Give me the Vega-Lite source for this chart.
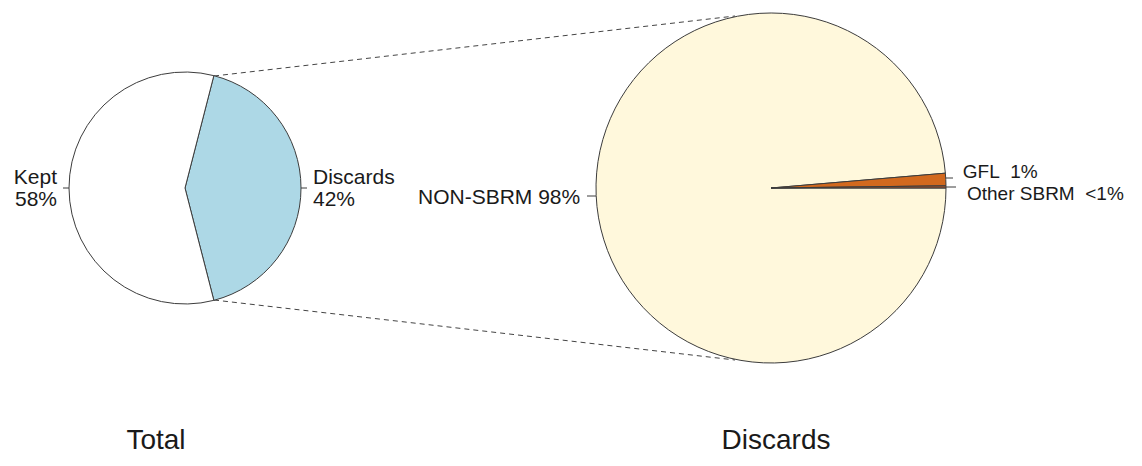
{
  "$schema": "https://vega.github.io/schema/vega-lite/v6.json",
  "width": 1142,
  "height": 466,
  "autosize": {"type": "fit", "contains": "padding"},
  "padding": 0,
  "background": "white",
  "config": {"view": {"stroke": null}, "font": "Liberation Sans", "text": {"font": "Liberation Sans"}},
  "datasets": {
    "total": [
      {"cat": "Discards", "value": 42, "ord": 1, "label": "Discards\n42%"},
      {"cat": "Kept", "value": 58, "ord": 2, "label": "Kept\n58%"}
    ],
    "discards": [
      {"cat": "NON-SBRM", "value": 98.65, "ord": 1, "label": "NON-SBRM 98%"},
      {"cat": "GFL", "value": 1.15, "ord": 2, "label": "GFL\u00a0 1%"},
      {"cat": "Other SBRM", "value": 0.2, "ord": 3, "label": "Other SBRM\u00a0 <1%"}
    ],
    "one": [{}]
  },
  "layer": [
    {
      "data": {"name": "one"},
      "layer": [
        {"mark": {"type": "rule", "stroke": "#444444", "strokeWidth": 1, "strokeDash": [5, 4]},
         "encoding": {
           "x": {"datum": 214, "type": "quantitative", "scale": {"domain": [0, 1142], "nice": false, "zero": false}, "axis": null},
           "y": {"datum": 76, "type": "quantitative", "scale": {"domain": [0, 466], "reverse": true, "nice": false, "zero": false}, "axis": null},
           "x2": {"datum": 735}, "y2": {"datum": 16}}},
        {"mark": {"type": "rule", "stroke": "#444444", "strokeWidth": 1, "strokeDash": [5, 4]},
         "encoding": {
           "x": {"datum": 214, "type": "quantitative", "scale": {"domain": [0, 1142], "nice": false, "zero": false}, "axis": null},
           "y": {"datum": 300, "type": "quantitative", "scale": {"domain": [0, 466], "reverse": true, "nice": false, "zero": false}, "axis": null},
           "x2": {"datum": 735}, "y2": {"datum": 360}}}
      ]
    },
    {
      "data": {"name": "total"},
      "encoding": {
        "x": {"datum": 185, "type": "quantitative", "scale": {"domain": [0, 1142], "nice": false, "zero": false}, "axis": null},
        "y": {"datum": 188, "type": "quantitative", "scale": {"domain": [0, 466], "reverse": true, "nice": false, "zero": false}, "axis": null},
        "theta": {"field": "value", "type": "quantitative", "stack": true, "scale": {"range": [0.25133, 6.53451]}},
        "order": {"field": "ord", "type": "quantitative"}
      },
      "layer": [
        {"mark": {"type": "arc", "radius": 116, "stroke": "#3c3c3c", "strokeWidth": 1},
         "encoding": {"color": {"field": "cat", "type": "nominal", "legend": null,
           "scale": {"domain": ["Kept", "Discards", "NON-SBRM", "GFL", "Other SBRM"], "range": ["#ffffff", "#add8e6", "#fff8dc", "#d2691e", "#a0522d"]}}}},
        {"mark": {"type": "text", "radius": 128, "align": "right", "baseline": "middle", "fontSize": 21, "lineBreak": "\n", "lineHeight": 22, "dy": -10, "color": "#1a1a1a"},
         "encoding": {"text": {"condition": {"test": "datum.cat === 'Kept'", "field": "label"}, "value": ""}}},
        {"mark": {"type": "text", "radius": 128, "align": "left", "baseline": "middle", "fontSize": 21, "lineBreak": "\n", "lineHeight": 22, "dy": -10, "color": "#1a1a1a"},
         "encoding": {"text": {"condition": {"test": "datum.cat === 'Discards'", "field": "label"}, "value": ""}}}
      ]
    },
    {
      "data": {"name": "discards"},
      "encoding": {
        "x": {"datum": 771, "type": "quantitative", "scale": {"domain": [0, 1142], "nice": false, "zero": false}, "axis": null},
        "y": {"datum": 188, "type": "quantitative", "scale": {"domain": [0, 466], "reverse": true, "nice": false, "zero": false}, "axis": null},
        "theta": {"field": "value", "type": "quantitative", "stack": true, "scale": {"range": [1.5708, 7.85398]}},
        "order": {"field": "ord", "type": "quantitative"}
      },
      "layer": [
        {"mark": {"type": "arc", "radius": 175, "stroke": "#3c3c3c", "strokeWidth": 1},
         "encoding": {"color": {"field": "cat", "type": "nominal", "legend": null,
           "scale": {"domain": ["Kept", "Discards", "NON-SBRM", "GFL", "Other SBRM"], "range": ["#ffffff", "#add8e6", "#fff8dc", "#d2691e", "#a0522d"]}}}},
        {"mark": {"type": "text", "radius": 191, "align": "right", "baseline": "middle", "fontSize": 21, "color": "#1a1a1a", "dy": 2},
         "encoding": {"text": {"condition": {"test": "datum.cat === 'NON-SBRM'", "field": "label"}, "value": ""}}},
        {"mark": {"type": "text", "radius": 192, "align": "left", "baseline": "middle", "fontSize": 19, "color": "#1a1a1a", "dy": -7},
         "encoding": {"text": {"condition": {"test": "datum.cat === 'GFL'", "field": "label"}, "value": ""}}},
        {"mark": {"type": "text", "radius": 192, "align": "left", "baseline": "middle", "fontSize": 19, "color": "#1a1a1a", "dx": 4, "dy": 7},
         "encoding": {"text": {"condition": {"test": "datum.cat === 'Other SBRM'", "field": "label"}, "value": ""}}}
      ]
    },
    {
      "data": {"name": "one"},
      "layer": [
        {"mark": {"type": "rule", "stroke": "#3c3c3c", "strokeWidth": 1},
         "encoding": {
           "x": {"datum": 63, "type": "quantitative", "scale": {"domain": [0, 1142], "nice": false, "zero": false}, "axis": null},
           "y": {"datum": 188, "type": "quantitative", "scale": {"domain": [0, 466], "reverse": true, "nice": false, "zero": false}, "axis": null},
           "x2": {"datum": 69}, "y2": {"datum": 188}}},
        {"mark": {"type": "rule", "stroke": "#3c3c3c", "strokeWidth": 1},
         "encoding": {
           "x": {"datum": 301, "type": "quantitative", "scale": {"domain": [0, 1142], "nice": false, "zero": false}, "axis": null},
           "y": {"datum": 188, "type": "quantitative", "scale": {"domain": [0, 466], "reverse": true, "nice": false, "zero": false}, "axis": null},
           "x2": {"datum": 307}, "y2": {"datum": 188}}},
        {"mark": {"type": "rule", "stroke": "#3c3c3c", "strokeWidth": 1},
         "encoding": {
           "x": {"datum": 587, "type": "quantitative", "scale": {"domain": [0, 1142], "nice": false, "zero": false}, "axis": null},
           "y": {"datum": 196, "type": "quantitative", "scale": {"domain": [0, 466], "reverse": true, "nice": false, "zero": false}, "axis": null},
           "x2": {"datum": 596}, "y2": {"datum": 196}}},
        {"mark": {"type": "rule", "stroke": "#3c3c3c", "strokeWidth": 1},
         "encoding": {
           "x": {"datum": 946, "type": "quantitative", "scale": {"domain": [0, 1142], "nice": false, "zero": false}, "axis": null},
           "y": {"datum": 178, "type": "quantitative", "scale": {"domain": [0, 466], "reverse": true, "nice": false, "zero": false}, "axis": null},
           "x2": {"datum": 953}, "y2": {"datum": 178}}},
        {"mark": {"type": "rule", "stroke": "#3c3c3c", "strokeWidth": 1},
         "encoding": {
           "x": {"datum": 946, "type": "quantitative", "scale": {"domain": [0, 1142], "nice": false, "zero": false}, "axis": null},
           "y": {"datum": 187, "type": "quantitative", "scale": {"domain": [0, 466], "reverse": true, "nice": false, "zero": false}, "axis": null},
           "x2": {"datum": 956}, "y2": {"datum": 187}}},
        {"mark": {"type": "text", "fontSize": 28, "align": "center", "baseline": "middle", "color": "#1a1a1a"},
         "encoding": {
           "x": {"datum": 156, "type": "quantitative", "scale": {"domain": [0, 1142], "nice": false, "zero": false}, "axis": null},
           "y": {"datum": 441, "type": "quantitative", "scale": {"domain": [0, 466], "reverse": true, "nice": false, "zero": false}, "axis": null},
           "text": {"value": "Total"}}},
        {"mark": {"type": "text", "fontSize": 28, "align": "center", "baseline": "middle", "color": "#1a1a1a"},
         "encoding": {
           "x": {"datum": 776, "type": "quantitative", "scale": {"domain": [0, 1142], "nice": false, "zero": false}, "axis": null},
           "y": {"datum": 441, "type": "quantitative", "scale": {"domain": [0, 466], "reverse": true, "nice": false, "zero": false}, "axis": null},
           "text": {"value": "Discards"}}}
      ]
    }
  ],
  "resolve": {"scale": {"theta": "independent"}}
}
